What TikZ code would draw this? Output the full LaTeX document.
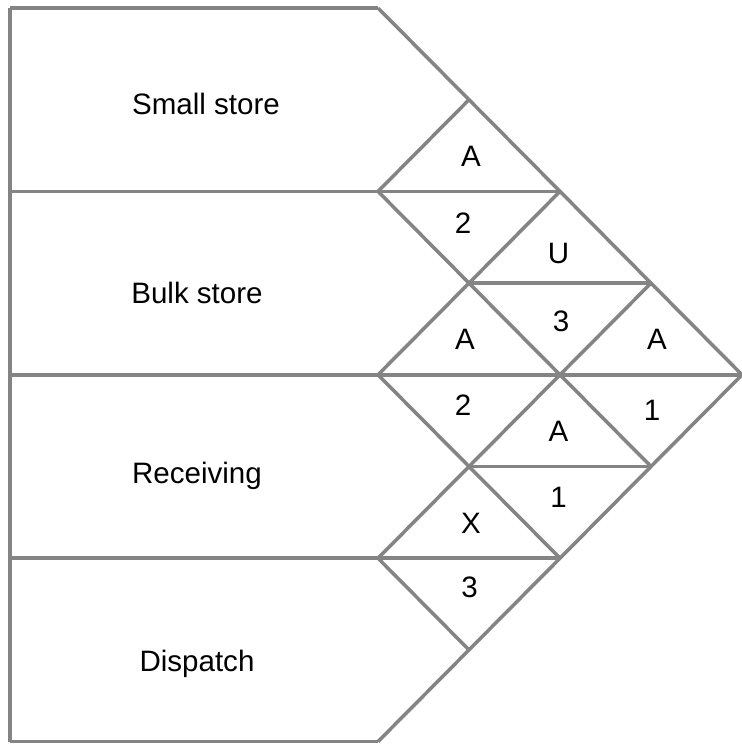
\documentclass[tikz,border=0pt]{standalone}
\usepackage{fontspec}
\setmainfont{Liberation Sans}
\definecolor{relgray}{RGB}{132,132,132}

\begin{document}
\begin{tikzpicture}[x=0.025cm,y=-0.025cm]
\useasboundingbox (0,0) rectangle (742,744);
\tikzset{every node/.style={font=\fontsize{21}{25}\selectfont, inner sep=0pt, anchor=base}}
\begin{scope}[draw=relgray, line width=2.5pt]
% department rows
\draw (10,8) -- (10,741.6);
\draw (10,8) -- (378,8);
\draw (10,191.4) -- (560,191.4);
\draw (10,374.8) -- (742,374.8);
\draw (10,558.2) -- (560,558.2);
\draw (10,741.6) -- (378,741.6);
% splits of the diamonds
\draw (469,283.1) -- (651,283.1);
\draw (469,466.5) -- (651,466.5);
% diagonals going down
\draw (378,8) -- (742,374.8);
\draw (378,191.4) -- (651,466.5);
\draw (378,374.8) -- (560,558.2);
\draw (378,558.2) -- (469,649.9);
% diagonals going up
\draw (378,191.4) -- (469,99.7);
\draw (378,374.8) -- (560,191.4);
\draw (378,558.2) -- (651,283.1);
\draw (378,741.6) -- (742,374.8);
\end{scope}

% departments
\node (small) at (206,114.5) {Small store};
\node (bulk) at (197,303) {Bulk store};
\node (recv) at (197,483.5) {Receiving};
\node (disp) at (197,671) {Dispatch};

% closeness codes and reasons
\node (sb) at (471,166.5) {A};
\node (sbr) at (463,233) {2};
\node (sr) at (558.5,263.5) {U};
\node (srr) at (561,331) {3};
\node (br) at (465,349) {A};
\node (brr) at (463,415) {2};
\node (sd) at (657,349) {A};
\node (sdr) at (652,420) {1};
\node (bd) at (558.5,441) {A};
\node (bdr) at (558.5,507) {1};
\node (rd) at (471,533) {X};
\node (rdr) at (469.5,597) {3};
\end{tikzpicture}
\end{document}
